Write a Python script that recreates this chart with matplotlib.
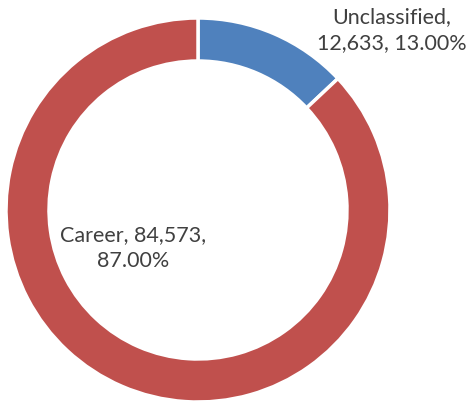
import matplotlib.pyplot as plt

categories = ["Unclassified", "Career"]
values = [12633, 84573]
percents = [13.00, 87.00]
colors = ["#4F81BD", "#C0504D"]

W, H = 470, 404
fig = plt.figure(figsize=(W / 100, H / 100), dpi=100)
ax = fig.add_axes([0, 0, 1, 1])

cx, cy, r = 198, H - 210, 192
ax.pie(values, colors=colors, startangle=90, counterclock=False,
       center=(cx, cy), radius=r, frame=True,
       wedgeprops=dict(width=43, edgecolor="white", linewidth=2.5))
ax.set_xlim(0, W)
ax.set_ylim(0, H)
ax.set_aspect("equal")
ax.axis("off")

labels = [
    f"{categories[0]},\n{values[0]:,}, {percents[0]:.2f}%",
    f"{categories[1]}, {values[1]:,},\n{percents[1]:.2f}%",
]
pos = [(392, H - 30), (133, H - 248)]
for (x, y), t in zip(pos, labels):
    ax.text(x, y, t, ha="center", va="center", fontsize=15.5, color="#404040",
            family="Lato", linespacing=1.35)

fig.savefig("out.png", dpi=100)
